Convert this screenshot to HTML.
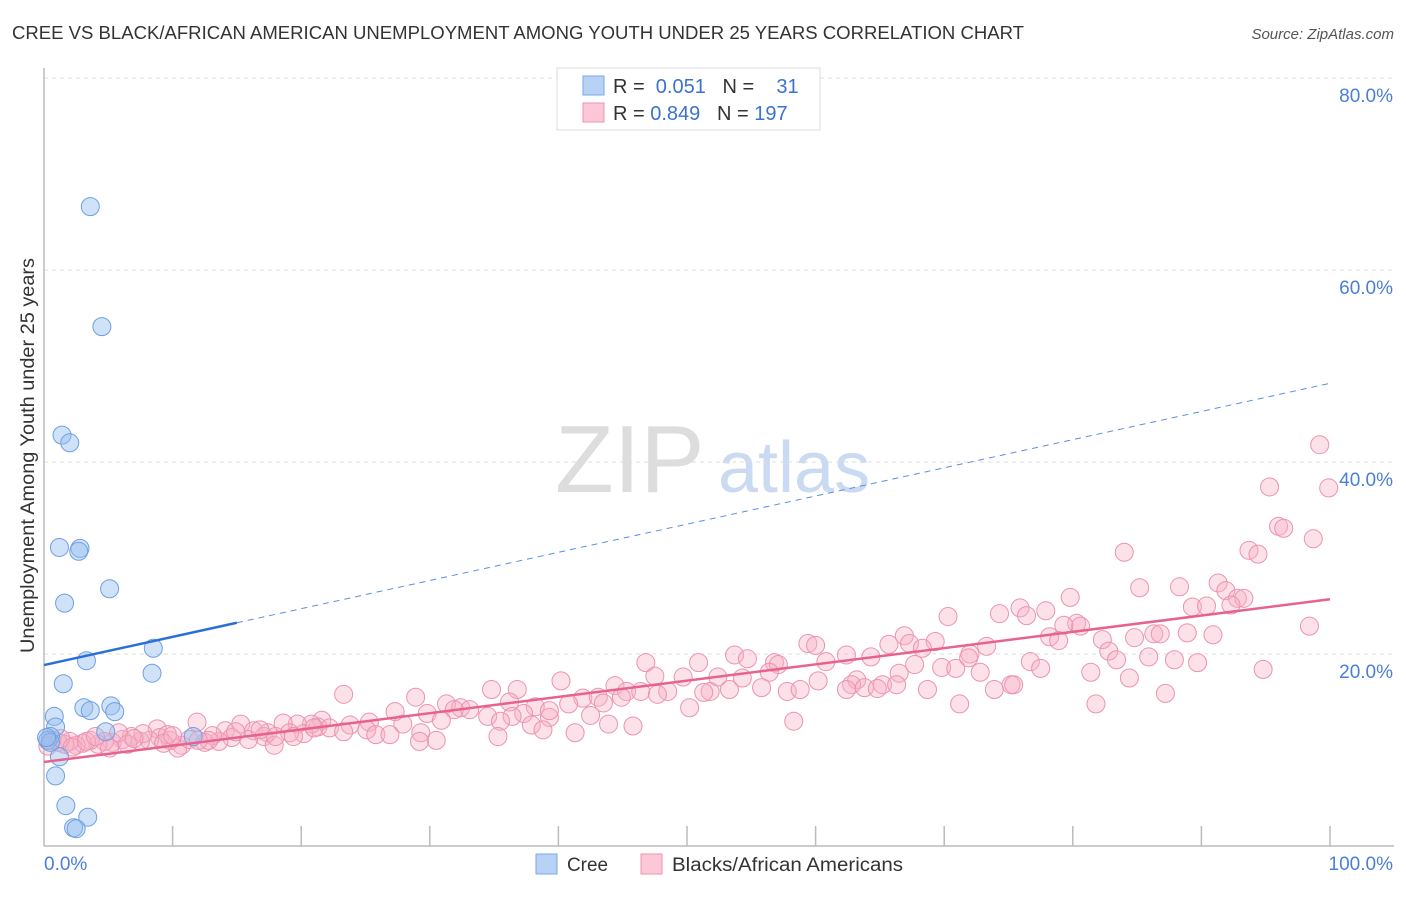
<!DOCTYPE html>
<html><head><meta charset="utf-8"><style>
body{margin:0;background:#fff;font-family:"Liberation Sans",sans-serif;}
svg text{font-family:"Liberation Sans",sans-serif;}
</style></head><body>
<svg id="chart" width="1406" height="892">
<text x="12" y="39" font-size="18" fill="#333" textLength="1012" lengthAdjust="spacingAndGlyphs">CREE VS BLACK/AFRICAN AMERICAN UNEMPLOYMENT AMONG YOUTH UNDER 25 YEARS CORRELATION CHART</text>
<text x="1394" y="39" font-size="15" fill="#555" font-style="italic" text-anchor="end">Source: ZipAtlas.com</text>
<text x="555" y="492" font-size="96" fill="#ddd" font-family="Liberation Serif">ZIP</text>
<text x="718" y="492" font-size="72" fill="#c9daf2">atlas</text>
<g id="grid"></g>
<g id="axes"></g>
<g id="pts"></g>
<g id="trends"></g>
<text transform="translate(34,653) rotate(-90)" font-size="19" fill="#333" textLength="395" lengthAdjust="spacingAndGlyphs">Unemployment Among Youth under 25 years</text>
<g>
<rect x="557" y="68" width="263" height="62" fill="#fff" stroke="#ddd"/>
<rect x="583" y="76" width="21" height="19" fill="#b8d2f6" stroke="#7aa8e8"/>
<rect x="583" y="103" width="21" height="19" fill="#fcc8d8" stroke="#eb93b0"/>
<text x="613" y="93" font-size="20" fill="#333">R = <tspan fill="#3a72d0">&#160;0.051</tspan>&#160;&#160;&#160;N = <tspan fill="#3a72d0">&#160;&#160;&#160;31</tspan></text>
<text x="613" y="120" font-size="20" fill="#333">R = <tspan fill="#3a72d0">0.849</tspan>&#160;&#160;&#160;N = <tspan fill="#3a72d0">197</tspan></text>
</g>
<g>
<rect x="536" y="854" width="21" height="20" fill="#b8d2f6" stroke="#7aa8e8"/>
<text x="567" y="871" font-size="19" fill="#333" textLength="41" lengthAdjust="spacingAndGlyphs">Cree</text>
<rect x="641" y="854" width="21" height="20" fill="#fcc8d8" stroke="#eb93b0"/>
<text x="672" y="871" font-size="19" fill="#333" textLength="231" lengthAdjust="spacingAndGlyphs">Blacks/African Americans</text>
</g>
</svg>
<script>
const yTicks=[20,40,60,80];
const yTickLabels=["20.0%","40.0%","60.0%","80.0%"];
const xTickLabels=["0.0%","100.0%"];
const creeX=[3.6,4.5,1.4,2.0,1.2,2.8,2.7,1.6,5.1,8.5,3.3,8.4,1.5,3.1,5.2,3.6,5.5,0.8,0.9,0.5,0.3,4.8,11.6,1.2,0.9,1.7,3.4,2.3,2.5,0.5,0.2];
const creeY=[66.6,54.1,42.8,42.0,31.1,31.0,30.7,25.3,26.8,20.6,19.3,18.0,16.9,14.4,14.6,14.1,14.0,13.5,12.4,11.4,11.0,11.9,11.4,9.3,7.3,4.2,3.0,1.9,1.8,10.8,11.3];
const blackX=[99.2,95.3,99.9,96.0,96.4,98.7,93.7,94.4,84.0,85.2,88.3,91.3,91.9,92.8,93.3,92.3,89.3,90.4,79.8,75.9,74.3,77.9,76.4,70.3,80.3,80.6,79.3,78.2,78.9,82.3,84.8,86.3,86.8,88.9,90.9,98.4,66.9,67.3,69.3,65.7,68.3,73.3,59.4,60.0,62.4,72.0,71.9,82.8,83.4,85.9,87.9,89.7,76.7,77.5,81.4,94.8,67.7,69.8,70.9,72.8,60.8,66.5,64.3,53.7,54.7,56.8,57.1,56.4,46.8,50.9,49.7,47.5,52.4,54.3,63.2,62.8,65.2,60.2,62.4,63.8,64.8,66.3,75.2,73.9,75.4,84.4,81.8,87.2,71.2,68.7,51.8,53.3,55.8,57.8,58.8,51.3,48.5,44.4,45.3,46.4,47.7,44.9,40.2,41.9,43.1,34.8,36.8,50.2,58.3,40.8,43.5,23.3,28.9,31.3,32.4,33.1,34.5,31.9,29.8,27.3,36.2,38.2,39.3,37.3,36.4,42.5,39.3,35.5,37.9,38.8,43.9,45.8,41.3,35.3,30.9,27.9,25.3,23.8,21.6,21.3,22.2,20.8,19.7,18.6,25.1,25.8,26.9,29.3,30.5,29.2,23.3,20.2,15.3,11.9,8.8,14.1,16.3,17.4,17.1,15.9,14.6,13.6,13.1,12.5,12.8,19.1,19.4,17.9,10.7,10.4,9.8,9.0,8.2,7.5,6.8,6.1,5.3,4.7,4.2,3.6,3.0,2.5,2.0,1.6,1.1,0.6,5.8,7.7,11.3,12.0,9.6,5.1,0.3,1.3,2.2,3.3,4.0,6.5,7.0,9.3,10.0,14.9,16.8,18.0,21.0];
const blackY=[41.8,37.4,37.3,33.3,33.1,32.0,30.8,30.4,30.6,26.9,27.0,27.4,26.6,25.8,25.8,25.1,24.9,25.0,25.9,24.8,24.2,24.5,24.0,23.9,23.2,22.9,23.0,21.8,21.4,21.5,21.7,22.1,22.1,22.2,22.0,22.9,21.9,21.1,21.3,21.0,20.6,20.8,21.1,20.9,19.9,20.0,19.6,20.3,19.4,19.7,19.4,19.1,19.2,18.5,18.1,18.4,18.9,18.6,18.5,18.1,19.2,18.0,19.7,19.9,19.5,19.1,18.9,18.1,19.1,19.1,17.6,17.7,17.6,17.5,17.3,16.8,16.8,17.2,16.3,16.5,16.4,16.8,16.8,16.3,16.8,17.5,14.8,15.9,14.8,16.3,16.1,16.3,16.5,16.1,16.3,16.0,16.1,16.7,16.1,16.1,15.8,15.5,17.2,15.4,15.5,16.3,16.3,14.4,13.0,14.8,14.9,15.8,15.5,14.8,14.4,14.2,13.5,14.2,13.8,14.0,15.0,14.5,13.4,13.8,13.5,13.6,14.1,13.0,12.6,12.1,12.7,12.5,11.8,11.4,13.1,12.7,12.9,12.6,13.1,12.4,12.3,12.7,12.7,12.8,12.1,11.6,11.6,11.8,11.0,10.9,11.9,11.7,12.7,12.9,12.2,12.0,12.0,11.8,11.4,11.1,11.3,10.9,11.5,10.8,11.0,11.8,11.4,10.5,10.5,10.2,11.0,11.3,11.0,10.9,11.4,11.1,10.8,10.9,10.6,11.0,10.7,10.5,10.9,10.6,10.8,11.0,11.8,11.7,11.1,11.0,11.6,10.2,10.4,11.2,10.3,10.9,11.4,10.6,11.2,10.7,11.5,11.9,12.1,11.4,12.3];
const creeTrend=[18.85,48.2];
const blackTrend=[8.75,25.7];
const creeSolidEnd=15;
const NS="http://www.w3.org/2000/svg";
const X0=44,X1=1330,Y0=846,Y80=78;
const sx=v=>X0+(X1-X0)*v/100;
const sy=v=>Y0-(Y0-Y80)*v/80;
function mk(t,a,p){const e=document.createElementNS(NS,t);for(const k in a)e.setAttribute(k,a[k]);p.appendChild(e);return e;}
const grid=document.getElementById('grid'),axes=document.getElementById('axes'),pts=document.getElementById('pts'),tr=document.getElementById('trends');
yTicks.forEach((v,i)=>{
 const l=mk('line',{x1:X0,x2:1394,y1:sy(v),y2:sy(v),stroke:'#ddd','stroke-dasharray':'4,4'},grid);
 
 
 const t=mk('text',{x:1393,y:sy(v)+24,'font-size':19,fill:'#4a7fd8','text-anchor':'end'},grid);
 t.textContent=yTickLabels[i];
 
 
});
const ax=mk('line',{x1:X0,x2:1394,y1:Y0,y2:Y0,stroke:'#bbb','stroke-width':1.5},axes);


const ay=mk('line',{x1:X0,x2:X0,y1:68,y2:Y0,stroke:'#bbb','stroke-width':1.5},axes);


for(let i=1;i<=10;i++){
 const t=mk('line',{x1:sx(i*10),x2:sx(i*10),y1:826,y2:Y0,stroke:'#bbb','stroke-width':1.5},axes);
 
 
}
const xl0=mk('text',{x:44,y:870,'font-size':19,fill:'#4a7fd8'},axes);xl0.textContent=xTickLabels[0];


const xl1=mk('text',{x:1393,y:870,'font-size':19,fill:'#4a7fd8','text-anchor':'end'},axes);xl1.textContent=xTickLabels[1];


blackX.forEach((x,i)=>{
 const c=mk('circle',{cx:sx(x),cy:sy(blackY[i]),r:9,fill:'rgba(246,175,198,0.38)',stroke:'#eb93b0','stroke-width':1},pts);
 
 
});
creeX.forEach((x,i)=>{
 const c=mk('circle',{cx:sx(x),cy:sy(creeY[i]),r:9,fill:'rgba(150,190,240,0.45)',stroke:'#6e9fe2','stroke-width':1},pts);
 
 
});
const cy=x=>creeTrend[0]+(creeTrend[1]-creeTrend[0])*x/100;
const t1=mk('line',{x1:sx(0),y1:sy(cy(0)),x2:sx(creeSolidEnd),y2:sy(cy(creeSolidEnd)),stroke:'#2a6fd6','stroke-width':2.5},tr);


const t2=mk('line',{x1:sx(creeSolidEnd),y1:sy(cy(creeSolidEnd)),x2:sx(100),y2:sy(cy(100)),stroke:'#5a8fe0','stroke-width':1,'stroke-dasharray':'6,5'},tr);


const t3=mk('line',{x1:sx(0),y1:sy(blackTrend[0]),x2:sx(100),y2:sy(blackTrend[1]),stroke:'#e8628e','stroke-width':2.5},tr);


</script>
</body></html>
